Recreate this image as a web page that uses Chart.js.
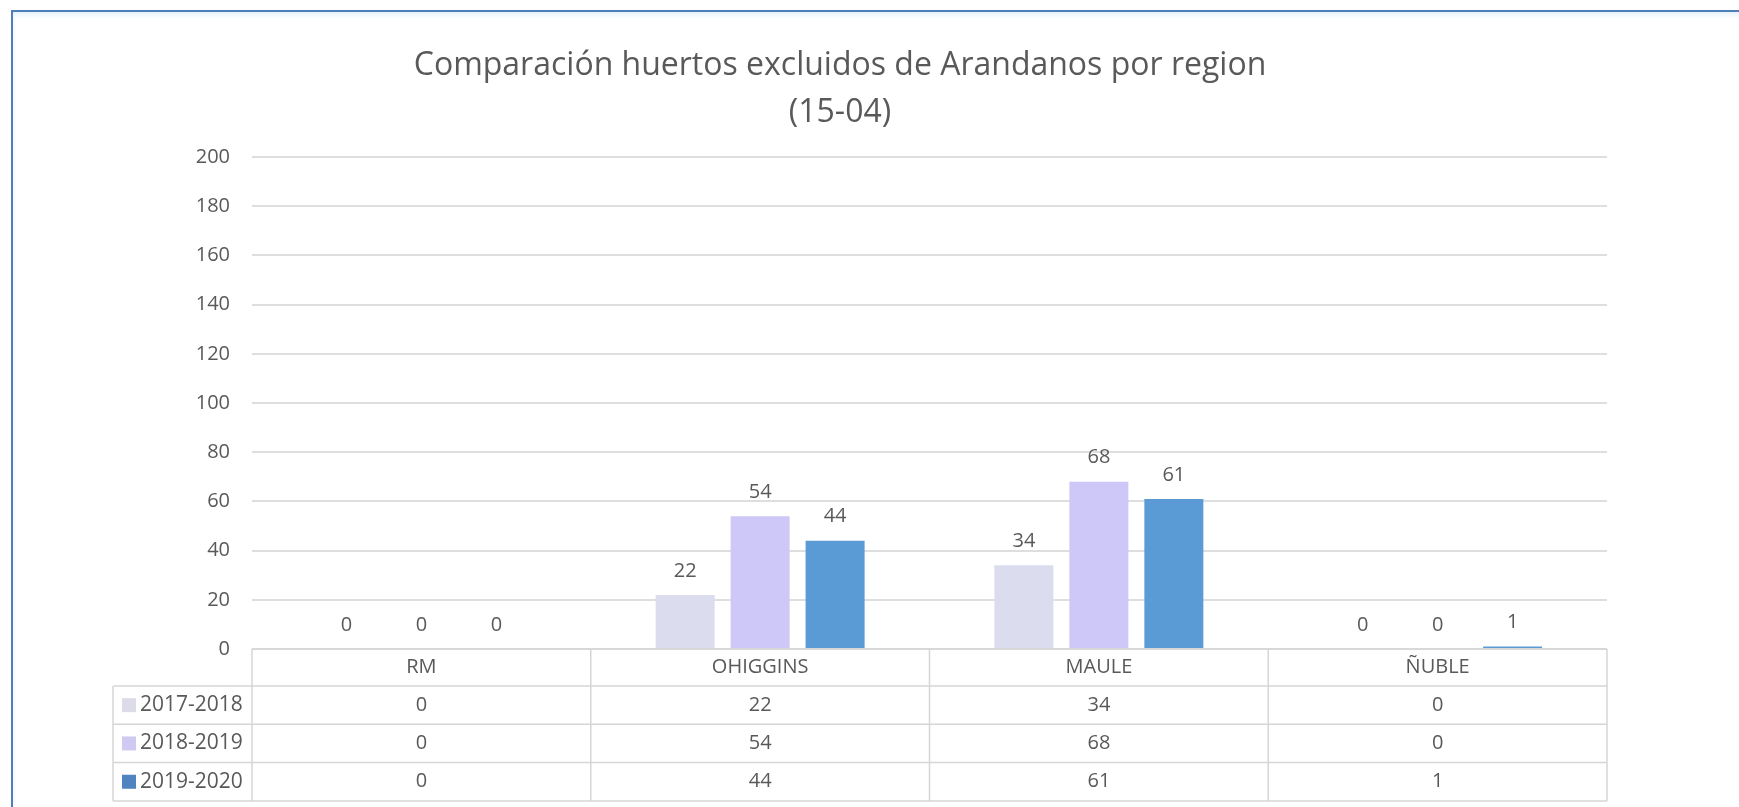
<!DOCTYPE html>
<html>
<head>
<meta charset="utf-8">
<script src="https://cdn.jsdelivr.net/npm/chart.js@4.4.1/dist/chart.umd.min.js"></script>
<style>
  html, body { margin: 0; padding: 0; background: #fff; overflow: hidden; }
  #frame {
    position: absolute; left: 11px; top: 10px; width: 1780px; height: 840px;
    border: 2px solid #4f7fb9; box-sizing: border-box;
    box-shadow: inset 0 3px 5px #e6f1fb;
  }
  #wrap { position: absolute; left: 0; top: 0; width: 1739px; height: 807px; }
</style>
</head>
<body>
<div id="frame"></div>
<div id="wrap"><canvas id="chart"></canvas></div>
<script>
const regions = ["RM", "OHIGGINS", "MAULE", "ÑUBLE"];
const seasons = ["2017-2018", "2018-2019", "2019-2020"];
const values2017 = [0, 22, 34, 0];
const values2018 = [0, 54, 68, 0];
const values2019 = [0, 44, 61, 1];
const yMax = 200;
const yStep = 20;

const colors = ["#dcdcef", "#cdc8f8", "#5b9bd5"];
const swatchColors = ["#dcdce8", "#cfcaf2", "#4f84c0"];
const textColor = "#595959";
const fontFamily = "'Open Sans', sans-serif";

Chart.defaults.font.family = fontFamily;
Chart.defaults.color = textColor;

// value labels over the bars + data table under the plot
const labelsAndTable = {
  id: "labelsAndTable",
  afterDatasetsDraw(chart) {
    const ctx = chart.ctx;
    const xs = chart.scales.x;
    const area = chart.chartArea;
    ctx.save();
    ctx.font = "20px " + fontFamily;
    ctx.fillStyle = textColor;
    ctx.textAlign = "center";
    ctx.textBaseline = "middle";
    chart.data.datasets.forEach((ds, i) => {
      chart.getDatasetMeta(i).data.forEach((bar, j) => {
        ctx.fillText(String(ds.data[j]), bar.x, bar.y - 24);
      });
    });

    const top = area.bottom;
    const headH = 37;
    const rowH = 38.3;
    const legendLeft = 113;
    const bottom = top + headH + rowH * seasons.length;
    const colW = (xs.right - xs.left) / regions.length;

    ctx.strokeStyle = "#d6d6d6";
    ctx.lineWidth = 1.5;
    ctx.beginPath();
    ctx.moveTo(xs.left, top);
    ctx.lineTo(xs.right, top);
    for (let r = 0; r <= seasons.length; r++) {
      const y = top + headH + rowH * r;
      ctx.moveTo(legendLeft, y);
      ctx.lineTo(xs.right, y);
    }
    for (let c = 0; c <= regions.length; c++) {
      const x = xs.left + colW * c;
      ctx.moveTo(x, top);
      ctx.lineTo(x, bottom);
    }
    ctx.moveTo(legendLeft, top + headH);
    ctx.lineTo(legendLeft, bottom);
    ctx.stroke();

    regions.forEach((name, c) => {
      ctx.fillText(name, xs.getPixelForValue(c), top + headH / 2);
    });
    chart.data.datasets.forEach((ds, r) => {
      const y = top + headH + rowH * r + rowH / 2;
      ds.data.forEach((v, c) => {
        ctx.fillText(String(v), xs.getPixelForValue(c), y);
      });
      ctx.fillStyle = swatchColors[r];
      ctx.fillRect(legendLeft + 9, y - 7, 14, 14);
      ctx.fillStyle = textColor;
      ctx.textAlign = "left";
      ctx.font = "21px " + fontFamily;
      ctx.fillText(ds.label, legendLeft + 27, y);
      ctx.font = "20px " + fontFamily;
      ctx.textAlign = "center";
    });
    ctx.restore();
  }
};

new Chart(document.getElementById("chart"), {
  type: "bar",
  data: {
    labels: regions,
    datasets: [
      { label: seasons[0], data: values2017, backgroundColor: colors[0] },
      { label: seasons[1], data: values2018, backgroundColor: colors[1] },
      { label: seasons[2], data: values2019, backgroundColor: colors[2] },
    ],
  },
  options: {
    responsive: true,
    maintainAspectRatio: false,
    animation: false,
    categoryPercentage: 0.664,
    barPercentage: 0.787,
    layout: { padding: { left: 73, right: 132, top: 0, bottom: 158 } },
    plugins: {
      legend: { display: false },
      tooltip: { enabled: false },
      title: {
        display: true,
        text: ["Comparación huertos excluidos de Arandanos por region", "(15-04)"],
        color: textColor,
        font: { size: 32, weight: "normal", lineHeight: 1.47 },
        padding: { top: 42, bottom: 21 },
      },
    },
    scales: {
      x: { display: false },
      y: {
        min: 0,
        max: yMax,
        ticks: { stepSize: yStep, padding: 22, color: textColor, font: { size: 20 } },
        grid: { color: "#dedede", lineWidth: 2, drawTicks: false },
        border: { display: false },
        afterFit(scale) { scale.width = 179; },
      },
    },
  },
  plugins: [labelsAndTable],
});
</script>
</body>
</html>
